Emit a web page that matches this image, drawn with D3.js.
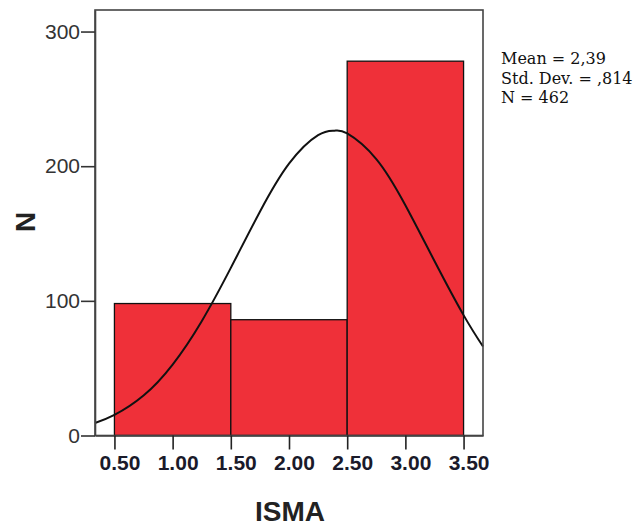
<!DOCTYPE html>
<html>
<head>
<meta charset="utf-8">
<script src="https://cdn.jsdelivr.net/npm/d3@7"></script>
<style>
  html, body { margin: 0; padding: 0; background: #fff; }
  svg { display: block; }
</style>
</head>
<body>
<svg id="chart" width="642" height="527"></svg>
<script>
// ---- data ----
const binEdges = [0.5, 1.5, 2.5, 3.5];
const counts = [98, 86, 278];
const xTicks = [0.5, 1.0, 1.5, 2.0, 2.5, 3.0, 3.5];
const yTicks = [0, 100, 200, 300];
const xDomain = [0.333, 3.667];
const yDomain = [0, 316];
// fitted normal curve
const curveX = [0.333, 0.5, 0.75, 1.0, 1.25, 1.5, 1.75, 2.0, 2.25, 2.39, 2.5, 2.75, 3.0, 3.25, 3.5, 3.667];
const curveY = [9.3, 15.3, 29.7, 52.7, 84.9, 124.5, 166.2, 201.9, 223.1, 226.4, 224.3, 205.3, 171.0, 129.6, 89.4, 66.1];
const statsLines = ["Mean = 2,39", "Std. Dev. = ,814", "N = 462"];
const xTitle = "ISMA";
const yTitle = "N";

// ---- layout ----
const mLeft = 95, mRight = 483, mTop = 10, mBottom = 435.5;
const svg = d3.select("#chart");
svg.append("rect").attr("width", 642).attr("height", 527).attr("fill", "#fff");

const x = d3.scaleLinear().domain(xDomain).range([mLeft, mRight]);
const y = d3.scaleLinear().domain(yDomain).range([mBottom, mTop]);

const bars = counts.map((c, i) => ({ x0: binEdges[i], x1: binEdges[i + 1], n: c }));

// bars
svg.append("g").selectAll("rect").data(bars).join("rect")
  .attr("x", d => x(d.x0))
  .attr("y", d => y(d.n))
  .attr("width", d => x(d.x1) - x(d.x0))
  .attr("height", d => y(0) - y(d.n))
  .attr("fill", "#EF3039")
  .attr("stroke", "#111")
  .attr("stroke-width", 1.3);

// normal curve
const pts = curveX.map((v, i) => [v, curveY[i]]);
svg.append("path")
  .datum(pts)
  .attr("d", d3.line().x(d => x(d[0])).y(d => y(d[1])).curve(d3.curveNatural))
  .attr("fill", "none")
  .attr("stroke", "#111")
  .attr("stroke-width", 2);

// frame
svg.append("rect")
  .attr("x", mLeft).attr("y", mTop)
  .attr("width", mRight - mLeft).attr("height", mBottom - mTop)
  .attr("fill", "none").attr("stroke", "#444").attr("stroke-width", 1.6);

// y axis
const yAxis = d3.axisLeft(y).tickValues(yTicks).tickFormat(d3.format("d"))
  .tickSizeInner(14).tickSizeOuter(0).tickPadding(1);
const gy = svg.append("g").attr("transform", `translate(${mLeft},0)`).call(yAxis);
gy.select(".domain").attr("stroke", "#444").attr("stroke-width", 1.6);
gy.selectAll(".tick line").attr("stroke", "#333").attr("stroke-width", 1.6);
gy.selectAll(".tick text")
  .attr("font-family", "'Liberation Sans', Arial, sans-serif")
  .attr("font-size", 21).attr("fill", "#333");

// x axis
const xAxis = d3.axisBottom(x).tickValues(xTicks).tickFormat(d3.format(".2f"))
  .tickSizeInner(14).tickSizeOuter(0).tickPadding(6);
const gx = svg.append("g").attr("transform", `translate(0,${mBottom})`).call(xAxis);
gx.select(".domain").attr("stroke", "#444").attr("stroke-width", 1.6);
gx.selectAll(".tick line").attr("stroke", "#222").attr("stroke-width", 1.6);
gx.selectAll(".tick text")
  .attr("font-family", "'Liberation Sans', Arial, sans-serif")
  .attr("font-size", 21).attr("font-weight", "bold").attr("fill", "#1a1a2a")
  .attr("dx", 5);

// titles
svg.append("text")
  .attr("x", 290).attr("y", 521)
  .attr("text-anchor", "middle")
  .attr("font-family", "'Liberation Sans', Arial, sans-serif")
  .attr("font-size", 28).attr("font-weight", "bold").attr("fill", "#222")
  .text(xTitle);

svg.append("text")
  .attr("transform", "translate(35,222) rotate(-90)")
  .attr("text-anchor", "middle")
  .attr("font-family", "'Liberation Sans', Arial, sans-serif")
  .attr("font-size", 28).attr("font-weight", "bold").attr("fill", "#222")
  .text(yTitle);

// stats
svg.append("g").selectAll("text").data(statsLines).join("text")
  .attr("x", 501).attr("y", (d, i) => 64 + i * 19.5)
  .attr("font-family", "'DejaVu Serif', serif")
  .attr("font-size", 16).attr("fill", "#111")
  .text(d => d);
</script>
</body>
</html>
